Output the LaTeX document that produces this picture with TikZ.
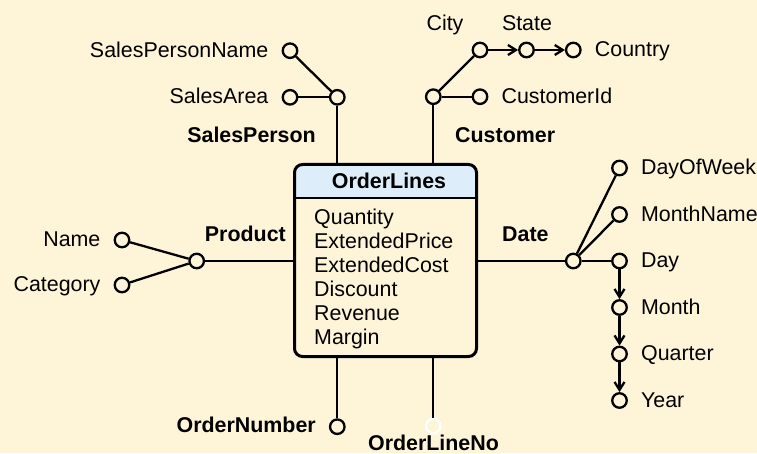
\documentclass[tikz,border=0pt]{standalone}
\usepackage{xcolor}
\usepackage{fontspec}
\setmainfont{Liberation Sans}
\usepackage{tikz}
\usetikzlibrary{positioning, calc, arrows.meta}

\definecolor{paper}{HTML}{FEF5D8}
\definecolor{headblue}{HTML}{DDEEFA}

\begin{document}
\begin{tikzpicture}[x=1pt, y=1pt,
	lbl/.style={inner sep=0pt, font=\fontsize{21.4}{24}\selectfont},
	dimlbl/.style={inner sep=0pt, font=\fontsize{21.4}{24}\selectfont\bfseries},
	attr/.style={circle, draw, fill=paper, line width=2.3pt, minimum size=14.5pt, inner sep=0pt},
	link/.style={line width=2.3pt},
	roll/.style={link, -{Straight Barb[length=8pt, width=10pt]}}]

	\fill[paper] (0,0) rectangle (757,453);
	\useasboundingbox (0,0) rectangle (757,453);

	\def\gap{13pt}
	\def\dy{-4pt}

	% fact table
	\node[minimum width=182pt, minimum height=192pt, inner sep=0pt, outer sep=0pt, fill=paper] (fact) at (385.5,192.5) {};
	\begin{scope}
	\clip[rounded corners=8pt] (fact.south west) rectangle (fact.north east);
	\fill[headblue] (fact.north west) rectangle ($(fact.north east)+(0,-33.5)$);
	\end{scope}
	\draw[line width=2.8pt] ($(fact.north west)+(0,-33.5)$) -- ($(fact.north east)+(0,-33.5)$);
	\draw[line width=3pt, rounded corners=8pt] (fact.south west) rectangle (fact.north east);
	\node[dimlbl, anchor=mid] (title) at (389,267.5) {OrderLines};

	\foreach \m [count=\i from 0] in {Quantity, ExtendedPrice, ExtendedCost, Discount, Revenue, Margin}
	\node[lbl, anchor=base west] (m\i) at (314, 228.5-24*\i) {\m};

	% SalesPerson
	\node[attr] (cSP) at (337.3,355.7) {};
	\node[attr] (cSA) at (290,355.7) {};
	\node[attr] (cSPN) at (290,402.3) {};
	\node[lbl, anchor=mid east] (tSA) at ([xshift=-\gap, yshift=\dy]cSA.west) {SalesArea};
	\node[lbl, anchor=mid east] (tSPN) at ([xshift=-\gap, yshift=\dy]cSPN.west) {SalesPersonName};
	\node[dimlbl, anchor=mid east] (dSP) at (316,313.5) {SalesPerson};
	\draw[link] (cSP) -- (cSP |- fact.north);
	\draw[link] (cSA) -- (cSP);
	\draw[link] (cSPN) -- (cSP);

	% Customer
	\node[attr] (cCu) at (433.3,356.3) {};
	\node[attr] (cCustId) at (480,356.3) {};
	\node[attr] (cCity) at (480,403) {};
	\node[attr] (cState) at (526.5,403) {};
	\node[attr] (cCountry) at (573.3,403) {};
	\node[lbl, anchor=mid west] (tCustId) at ([xshift=\gap, yshift=\dy]cCustId.east) {CustomerId};
	\node[lbl, anchor=mid west] (tCountry) at ([xshift=\gap, yshift=\dy]cCountry.east) {Country};
	\node[lbl, anchor=mid] (tCity) at (445,425) {City};
	\node[lbl, anchor=mid] (tState) at (527,425) {State};
	\node[dimlbl, anchor=mid west] (dCu) at (455,313.5) {Customer};
	\draw[link] (cCu) -- (cCu |- fact.north);
	\draw[link] (cCustId) -- (cCu);
	\draw[link] (cCity) -- (cCu);
	\draw[roll] (cCity) -- (cState);
	\draw[roll] (cState) -- (cCountry);

	% Product
	\node[attr] (cProd) at (196.7,192) {};
	\node[attr] (cName) at (122,213) {};
	\node[attr] (cCat) at (122,168) {};
	\node[lbl, anchor=mid east] (tName) at ([xshift=-\gap, yshift=\dy]cName.west) {Name};
	\node[lbl, anchor=mid east] (tCat) at ([xshift=-\gap, yshift=\dy]cCat.west) {Category};
	\node[dimlbl, anchor=mid east] (dProd) at (286,214.5) {Product};
	\draw[link] (cProd) -- (cProd -| fact.west);
	\draw[link] (cName) -- (cProd);
	\draw[link] (cCat) -- (cProd);

	% Date
	\node[attr] (cDate) at (573.3,192) {};
	\foreach \n/\t [count=\i from 0] in {DoW/DayOfWeek, MN/MonthName, Day/Day, Month/Month, Qtr/Quarter, Year/Year} {
		\node[attr] (c\n) at (619.5, 285-46.5*\i) {};
		\node[lbl, anchor=mid west] (t\n) at ([xshift=\gap, yshift=\dy]c\n.east) {\t};
	}
	\node[dimlbl, anchor=mid west] (dDate) at (502,214.5) {Date};
	\draw[link] (cDate) -- (cDate -| fact.east);
	\foreach \n in {DoW, MN, Day}
	\draw[link] (c\n) -- (cDate);
	\foreach \a/\b in {Day/Month, Month/Qtr, Qtr/Year}
	\draw[roll] (c\a) -- (c\b);

	% degenerate dimensions
	\node[attr] (cON) at (337.3,26.3) {};
	\node[attr, draw=white] (cOLN) at (433.3,27) {};
	\node[dimlbl, anchor=mid east] (dON) at (316,23) {OrderNumber};
	\node[dimlbl, anchor=mid] (dOLN) at (433.5,5.6) {OrderLineNo};
	\draw[link] (cON) -- (cON |- fact.south);
	\draw[link] (cOLN) -- (cOLN |- fact.south);
\end{tikzpicture}
\end{document}
